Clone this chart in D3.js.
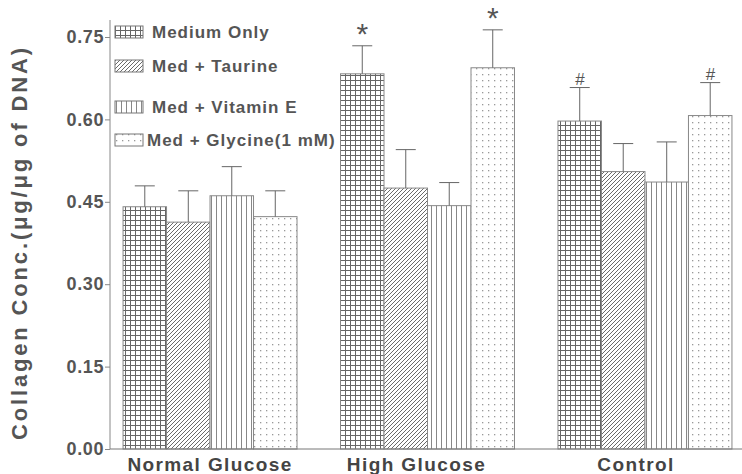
<!DOCTYPE html>
<html>
<head>
<meta charset="utf-8">
<script src="https://cdn.jsdelivr.net/npm/d3@7"></script>
<style>
  body { margin: 0; background: #fff; }
  svg { display: block; font-family: "Liberation Sans", Arial, sans-serif; }
</style>
</head>
<body>
<svg id="chart" width="742" height="474"></svg>
<script>
const groups = ["Normal Glucose", "High Glucose", "Control"];
const treatments = ["Medium Only", "Med + Taurine", "Med + Vitamin E", "Med + Glycine(1 mM)"];

const mediumOnly = [0.441, 0.683, 0.597];
const medTaurine = [0.413, 0.475, 0.505];
const medVitaminE = [0.461, 0.443, 0.486];
const medGlycine = [0.423, 0.694, 0.607];

const errMediumOnly = [0.038, 0.051, 0.061];
const errTaurine = [0.057, 0.070, 0.051];
const errVitaminE = [0.053, 0.042, 0.073];
const errGlycine = [0.047, 0.069, 0.060];

const markMediumOnly = ["", "*", "#"];
const markGlycine = ["", "*", "#"];

const yTicks = [0, 0.15, 0.30, 0.45, 0.60, 0.75];

const seriesValues = [mediumOnly, medTaurine, medVitaminE, medGlycine];
const seriesErrors = [errMediumOnly, errTaurine, errVitaminE, errGlycine];
const seriesMarks = [markMediumOnly, ["", "", ""], ["", "", ""], markGlycine];

const svg = d3.select("#chart");
const ink = "#666";

// patterns
const defs = svg.append("defs");
const p0 = defs.append("pattern").attr("id", "pat0").attr("patternUnits", "userSpaceOnUse")
  .attr("width", 5).attr("height", 5);
p0.append("rect").attr("width", 5).attr("height", 5).attr("fill", "#fff");
p0.append("path").attr("d", "M0,0.5H5M0.5,0V5").attr("stroke", "#666").attr("stroke-width", 1);

const p1 = defs.append("pattern").attr("id", "pat1").attr("patternUnits", "userSpaceOnUse")
  .attr("width", 4).attr("height", 4);
p1.append("rect").attr("width", 4).attr("height", 4).attr("fill", "#fff");
p1.append("path").attr("d", "M-1,1L1,-1M0,4L4,0M3,5L5,3").attr("stroke", "#6a6a6a").attr("stroke-width", 1);

const p2 = defs.append("pattern").attr("id", "pat2").attr("patternUnits", "userSpaceOnUse")
  .attr("width", 5).attr("height", 5);
p2.append("rect").attr("width", 5).attr("height", 5).attr("fill", "#fff");
p2.append("path").attr("d", "M1.5,0V5").attr("stroke", "#888").attr("stroke-width", 1);

const p3 = defs.append("pattern").attr("id", "pat3").attr("patternUnits", "userSpaceOnUse")
  .attr("width", 6).attr("height", 6);
p3.append("rect").attr("width", 6).attr("height", 6).attr("fill", "#fff");
p3.append("rect").attr("x", 2).attr("y", 2).attr("width", 1.3).attr("height", 1.3).attr("fill", "#999");

const x0 = d3.scaleBand().domain(groups).range([110, 745]).paddingInner(0.2).paddingOuter(0.06);
const x1 = d3.scaleBand().domain(treatments).range([0, x0.bandwidth()]);
const y = d3.scaleLinear().domain([0, 0.75]).range([449, 37]);

// bars
const g = svg.append("g");
treatments.forEach((t, ti) => {
  groups.forEach((grp, gi) => {
    const v = seriesValues[ti][gi];
    const e = seriesErrors[ti][gi];
    const bx = x0(grp) + x1(t);
    const cx = bx + x1.bandwidth() / 2;
    g.append("rect")
      .attr("x", bx).attr("y", y(v))
      .attr("width", x1.bandwidth()).attr("height", y(0) - y(v))
      .attr("fill", `url(#pat${ti})`)
      .attr("stroke", "#888").attr("stroke-width", 1);
    g.append("line").attr("x1", cx).attr("x2", cx).attr("y1", y(v)).attr("y2", y(v + e))
      .attr("stroke", ink).attr("stroke-width", 1);
    g.append("line").attr("x1", cx - 10).attr("x2", cx + 10).attr("y1", y(v + e)).attr("y2", y(v + e))
      .attr("stroke", ink).attr("stroke-width", 1);
    const m = seriesMarks[ti][gi];
    if (m === "*") {
      g.append("text").attr("x", cx).attr("y", y(v + e) - 2).attr("text-anchor", "middle")
        .attr("font-size", 30).attr("fill", "#555").text(m);
    } else if (m === "#") {
      g.append("text").attr("x", cx).attr("y", y(v + e) - 3).attr("text-anchor", "middle")
        .attr("font-size", 17).attr("font-style", "italic").attr("fill", "#555").text(m);
    }
  });
});

// axes
const yAxis = svg.append("g").attr("transform", "translate(110,0)")
  .call(d3.axisLeft(y).tickValues(yTicks).tickFormat(d3.format(".2f")).tickSize(5));
yAxis.select(".domain").remove();
yAxis.selectAll(".tick line").attr("stroke", "#888");
yAxis.selectAll(".tick text").attr("font-size", 18).attr("font-weight", "bold")
  .attr("letter-spacing", 0.6)
  .attr("fill", "#555").attr("font-family", "Liberation Sans, Arial, sans-serif").attr("x", -6);

svg.append("line").attr("x1", 110).attr("x2", 110).attr("y1", 20).attr("y2", y(0))
  .attr("stroke", "#888");
svg.append("line").attr("x1", 110).attr("x2", 742).attr("y1", y(0)).attr("y2", y(0))
  .attr("stroke", "#777");

const labelShift = [0, -11, -9];
svg.selectAll(".xlab").data(groups).enter().append("text")
  .attr("class", "xlab")
  .attr("x", (d, i) => x0(d) + x0.bandwidth() / 2 + labelShift[i])
  .attr("y", 471)
  .attr("text-anchor", "middle")
  .attr("font-size", 19).attr("font-weight", "bold").attr("fill", "#444")
  .attr("letter-spacing", 1.4)
  .text(d => d);

svg.append("text")
  .attr("transform", "translate(27,244) rotate(-90)")
  .attr("text-anchor", "middle")
  .attr("font-size", 22).attr("font-weight", "bold").attr("fill", "#555")
  .attr("textLength", 392).attr("lengthAdjust", "spacing")
  .text("Collagen Conc.(\u03bcg/\u03bcg of DNA)");

// legend
const legY = [32, 66, 107, 140];
const leg = svg.append("g");
treatments.forEach((t, i) => {
  leg.append("rect").attr("x", 115).attr("y", legY[i] - 6).attr("width", 28).attr("height", 12)
    .attr("fill", `url(#pat${i})`).attr("stroke", "#777");
  leg.append("text").attr("x", i === 3 ? 147 : 152).attr("y", legY[i] + 6)
    .attr("font-size", 17).attr("font-weight", "bold").attr("fill", "#555")
    .attr("letter-spacing", 1)
    .text(t);
});
</script>
</body>
</html>
